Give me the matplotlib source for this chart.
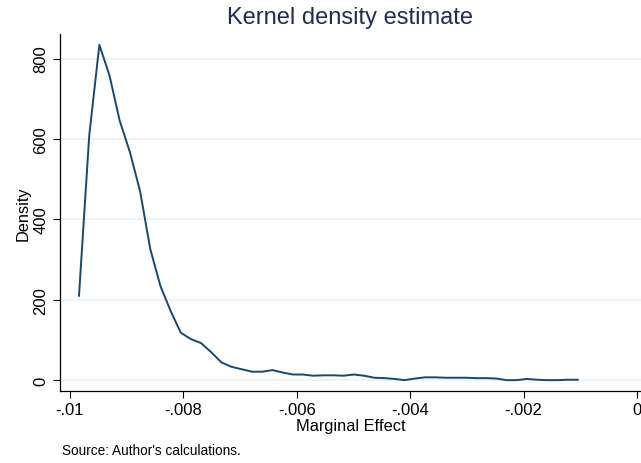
import matplotlib
matplotlib.use("Agg")
import matplotlib.pyplot as plt

plt.rcParams['font.family'] = ['Liberation Sans', 'DejaVu Sans']

# kernel density estimate
marginal_effect = [-0.009841, -0.009661, -0.009482, -0.009302, -0.009123,
                   -0.008943, -0.008764, -0.008584, -0.008405, -0.008225,
                   -0.008046, -0.007866, -0.007687, -0.007507, -0.007328,
                   -0.007148, -0.006969, -0.006789, -0.006610, -0.006430,
                   -0.006251, -0.006071, -0.005892, -0.005712, -0.005533,
                   -0.005353, -0.005174, -0.004994, -0.004815, -0.004635,
                   -0.004456, -0.004276, -0.004097, -0.003917, -0.003738,
                   -0.003558, -0.003379, -0.003199, -0.003020, -0.002840,
                   -0.002661, -0.002481, -0.002302, -0.002122, -0.001943,
                   -0.001763, -0.001584, -0.001404, -0.001225, -0.001045]
density = [210, 608, 834, 757, 645, 567, 470, 326, 234, 172,
           118, 102, 92, 69, 44, 33, 27, 21, 21, 25,
           19, 14, 14, 11, 12, 12, 11, 14, 11, 6,
           5, 3, 0, 4, 7, 7, 6, 6, 6, 5,
           5, 4, 0, 0, 3, 1, 0, 0, 1, 1]

xticks = [-0.01, -0.008, -0.006, -0.004, -0.002, 0]
xtick_labels = ["-.01", "-.008", "-.006", "-.004", "-.002", "0"]
yticks = [0, 200, 400, 600, 800]
ytick_labels = ["0", "200", "400", "600", "800"]

fig = plt.figure(figsize=(6.41, 4.64), dpi=100)
ax = fig.add_axes([59.5 / 641, 72 / 464, (641 - 59.5) / 641, 357 / 464])

ax.plot(marginal_effect, density, color="#1a476f", lw=1.4)

ax.set_xlim(-0.010185, 0.00007)
ax.set_ylim(-27, 861)
ax.set_xticks(xticks)
ax.set_xticklabels(xtick_labels, fontsize=12)
ax.set_yticks(yticks)
ax.set_yticklabels(ytick_labels, fontsize=12, rotation=90, va="center")
ax.tick_params(length=5, width=0.8, color="black", pad=3)

ax.grid(axis="y", color="#eaf2f3", lw=1.2)
ax.set_axisbelow(True)
for side in ["top", "right"]:
    ax.spines[side].set_visible(False)
for side in ["left", "bottom"]:
    ax.spines[side].set_linewidth(0.9)

ax.set_xlabel("Marginal Effect", fontsize=11.8, labelpad=1)
ax.set_ylabel("Density", fontsize=11.8, labelpad=2)
fig.text(350 / 641, 1 - 18 / 464, "Kernel density estimate", fontsize=17,
         color="#1e2d53", ha="center", va="center")
fig.text(62 / 641, 1 - 451 / 464, "Source: Author's calculations.", fontsize=9.8,
         ha="left", va="center")

fig.savefig("out.png", dpi=100)
